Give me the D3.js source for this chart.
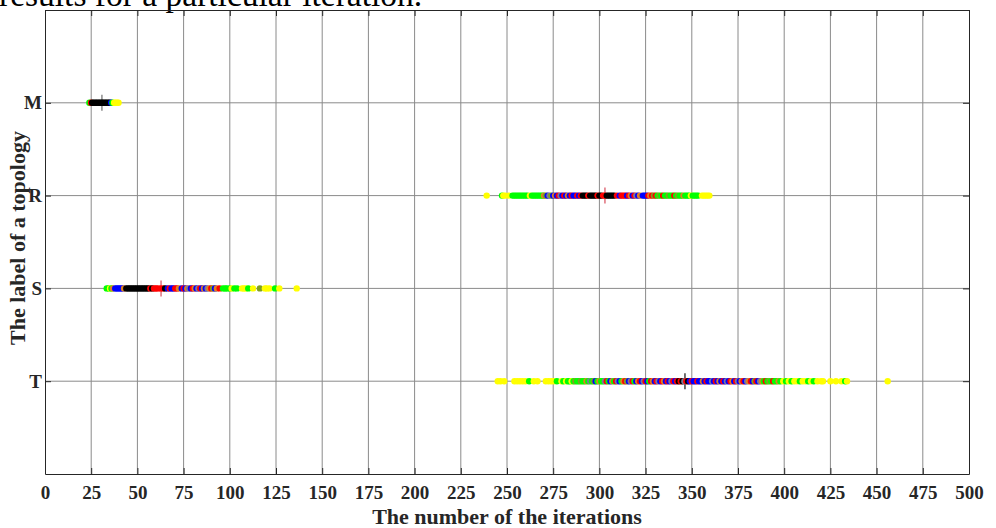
<!DOCTYPE html>
<html><head><meta charset="utf-8">
<script src="https://cdn.jsdelivr.net/npm/d3@7"></script>
<style>
html,body{margin:0;padding:0;background:#fff;overflow:hidden}
svg{display:block}
text{font-family:"Liberation Serif","Times New Roman",serif}
</style></head>
<body>
<svg id="chart" width="996" height="528"></svg>
<script>
// ---- data ----
const categories = ["M", "R", "S", "T"];
const xTicks = [0,25,50,75,100,125,150,175,200,225,250,275,300,325,350,375,400,425,450,475,500];

const mValues = [24,24.9,25.5,26.3,27.1,27.9,28.7,29.5,30.3,31.1,31.9,32.7,33.5,34.3,35.1,35.8,36.5,37.4,38.2,39,39.8];
const mColors = ["g","r","k","k","k","k","k","k","k","k","k","k","k","k","k","b","g","y","y","y","y"];

const rValues = [239,247.3,248,249,251,253,254,255,256,257,258,259,260,261,262.4,263.5,264.5,265.5,266.5,267.5,268.5,269.5,
  270,271,272,273,274,275,276,277,278,279,280,281,282,283,284,285,286,287,288,289,290,291,292,293,294,295,296,297,298,299,300,
  301,302,303,304,305,306,307,308,309.5,311,312,313,314,315,316,317,318,319,320,321,322,323.5,324.5,325.5,326.5,327.5,328.5,
  329.5,330.5,331.5,332.5,333.5,334.5,335.5,336.5,337.5,338.5,339.5,340.5,341.5,342.5,343.5,344.5,345.5,346.5,347.5,348.5,
  349.5,350.5,351.5,352.5,353.5,355.5,356.5,357.5,358.5,359.5];
const rColors = ["y","g","y","y","y","g","g","g","g","g","g","g","g","g","y","g","g","g","g","g","g","g",
  "o","v","b","a","v","b","o","b","r","a","b","r","b","o","b","r","b","b","r","b","r","k","k","k","r","k","k","k","k","r","k",
  "k","r","r","k","k","k","k","k","r","b","r","r","r","b","r","o","b","r","a","b","o","b","b","b","r","o","r",
  "v","r","g","v","g","r","g","g","v","g","g","r","g","v","g","g","o","g","g","g",
  "y","g","g","g","g","y","y","y","y","y"];

const sValues = [33.4,34.4,35.2,36,36.8,38,39,40,41,42,42.8,44,45,46,47,48,49,50,51,52,53,54,55,56,57,58,59,60,61,62.5,64,65,
  66.5,67.5,68.5,69.5,70.5,71.5,72.5,74,75,76,77,78,79,80,81,82,83,84,85,86,87,88,89,90,91,92,93,94.5,96.3,97.5,98.5,100,101,
  102.5,104,106.6,107.6,108.6,110,112.6,116.3,119,120,121.5,124.5,126.8,136.2];
const sColors = ["g","g","y","g","o","b","b","b","b","b","o","k","k","k","k","k","k","k","k","k","k","k","k","k","r","k","r","r","r","r","r","k",
  "b","r","b","b","r","r","o","b","r","b","o","a","b","r","o","b","a","r","b","o","b","a","o","r","v","b","o","r","g","g","g","g","y",
  "g","g","y","y","y","g","y","v","y","y","y","g","y","y"];

const tValues = [245,246.5,248.5,254,255.5,257,258.5,260,262,264.5,266.5,271,272.5,274,275.5,277,279.5,280.5,282,283,284,285,286,287,
  288,289,290,291,292,293,294,295,296,297,298,299,300,301,302,303,304,305,306,307,308,309,310,311,312,313,314,315,316,317,318,319,
  320,321,322,323,324,325,326,327,328,329,330,331,332,333,334,335,336,337,338,339,340,341,342,343,344,345,346,347,348,349,350,351,
  352,353,354,355,356,357,358,359,360,361,362,363,364,365,366,367,368,369,370,371,372,373,374,375,376,377,378,379,380,381,382,383,
  384,385,386,387,388,389,390,391,392,393,394,395,396,397,398,399.5,401,402.5,404,405.5,407,408.5,410,411.5,413,414.5,416,418,420,
  421,425,428,431,433,434,456];
const tColors = ["y","y","y","y","y","y","y","y","g","y","y","y","y","y","y","g","y","g","y","g","g","y","g","v",
  "g","g","v","g","g","o","g","a","g","v","b","g","o","g","g","a","r","g","b","o","g","r","a","b","g","o","r","v","b","a","r","g",
  "b","o","r","b","a","r","b","g","r","o","b","r","a","b","r","o","b","r","b","a","r","b","r","k","r","k","a","r","k","b","r","b",
  "b","r","b","b","o","b","r","b","b","a","b","r","b","o","b","r","b","a","b","r","o","b","r","a","b","o","r","b","a","o","r","b",
  "v","r","b","a","o","g","r","g","v","g","r","g","g","o","g","y","g","y","g","y","y","g","y","y","g","y","g","y","y",
  "y","y","y","y","g","y","y"];

const medians = [30.8, 303, 62.8, 346.3];
const medianColors = ["#8c8c8c", "#e0707c", "#e0707c", "#404040"];

const title = "results for a particular iteration.";
const xLabel = "The number of the iterations";
const yLabel = "The label of a topology";

// ---- drawing ----
const palette = {y:"#ffff00", g:"#00ff00", b:"#0000ff", r:"#ff0000", k:"#000000",
  o:"#e08020", v:"#80a020", a:"#7a7a9a"};

const svg = d3.select("#chart");
const L = 45, R = 969, T = 10, B = 474;

const x = d3.scaleLinear().domain([0, 500]).range([L, R]);
const y = d3.scaleLinear().domain([0, 5]).range([T, B]);
const catPos = d => categories.indexOf(d) + 1;

// title (clipped at top)
svg.append("text").attr("x", -1).attr("y", 6).attr("font-size", 33.5).attr("fill", "#000").text(title);

// grid
const grid = svg.append("g");
grid.selectAll("line.v").data(xTicks.slice(1, -1)).join("line")
  .attr("x1", d => x(d)).attr("x2", d => x(d)).attr("y1", T).attr("y2", B)
  .attr("stroke", "#8a8a8a").attr("stroke-width", 1);
grid.selectAll("line.h").data(categories).join("line")
  .attr("x1", L).attr("x2", R).attr("y1", d => y(catPos(d))).attr("y2", d => y(catPos(d)))
  .attr("stroke", "#8a8a8a").attr("stroke-width", 1);

// axes
const xAxisB = d3.axisBottom(x).tickValues(xTicks).tickSizeInner(-6).tickSizeOuter(0).tickPadding(12);
const xAxisT = d3.axisTop(x).tickValues(xTicks).tickSizeInner(-6).tickSizeOuter(0).tickFormat("");
const yAxisL = d3.axisLeft(y).tickValues([1,2,3,4]).tickSizeInner(-6).tickSizeOuter(0).tickPadding(3)
  .tickFormat(d => categories[d - 1]);
const yAxisR = d3.axisRight(y).tickValues([1,2,3,4]).tickSizeInner(-6).tickSizeOuter(0).tickFormat("");

function styleAxis(g) {
  g.select(".domain").attr("stroke", "#262626");
  g.selectAll(".tick line").attr("stroke", "#262626");
  g.selectAll(".tick text").attr("font-family", "Liberation Serif, Times New Roman, serif")
    .attr("font-size", 19).attr("font-weight", "bold").attr("fill", "#262626");
}
svg.append("g").attr("transform", `translate(0,${B})`).call(xAxisB).call(styleAxis);
svg.append("g").attr("transform", `translate(0,${T})`).call(xAxisT).call(styleAxis);
svg.append("g").attr("transform", `translate(${L},0)`).call(yAxisL).call(styleAxis);
svg.append("g").attr("transform", `translate(${R},0)`).call(yAxisR).call(styleAxis);

// median markers (under the dots)
const med = svg.append("g");
categories.forEach((c, i) => {
  const cx = x(medians[i]), cy = y(catPos(c));
  med.append("line").attr("x1", cx).attr("x2", cx).attr("y1", cy - 8).attr("y2", cy + 8)
    .attr("stroke", medianColors[i]).attr("stroke-width", 1.5);
  med.append("line").attr("x1", cx - 8).attr("x2", cx + 8).attr("y1", cy).attr("y2", cy)
    .attr("stroke", medianColors[i]).attr("stroke-width", 1.5);
});

// dots
const rows = [[mValues, mColors], [rValues, rColors], [sValues, sColors], [tValues, tColors]];
const dots = svg.append("g");
rows.forEach(([vals, cols], i) => {
  const cy = y(i + 1);
  const pts = vals.map((v, j) => ({v, c: cols[j]}));
  dots.selectAll(null).data(pts).join("circle")
    .attr("cx", d => x(d.v)).attr("cy", cy).attr("r", 3.2)
    .attr("fill", d => palette[d.c]);
});

// axis labels
svg.append("text").attr("x", (L + R) / 2).attr("y", 524).attr("text-anchor", "middle")
  .attr("font-size", 22).attr("font-weight", "bold").attr("fill", "#262626").text(xLabel);
svg.append("text").attr("transform", `translate(25,238) rotate(-90)`).attr("text-anchor", "middle")
  .attr("font-size", 22).attr("font-weight", "bold").attr("fill", "#262626").text(yLabel);
</script>
</body></html>
